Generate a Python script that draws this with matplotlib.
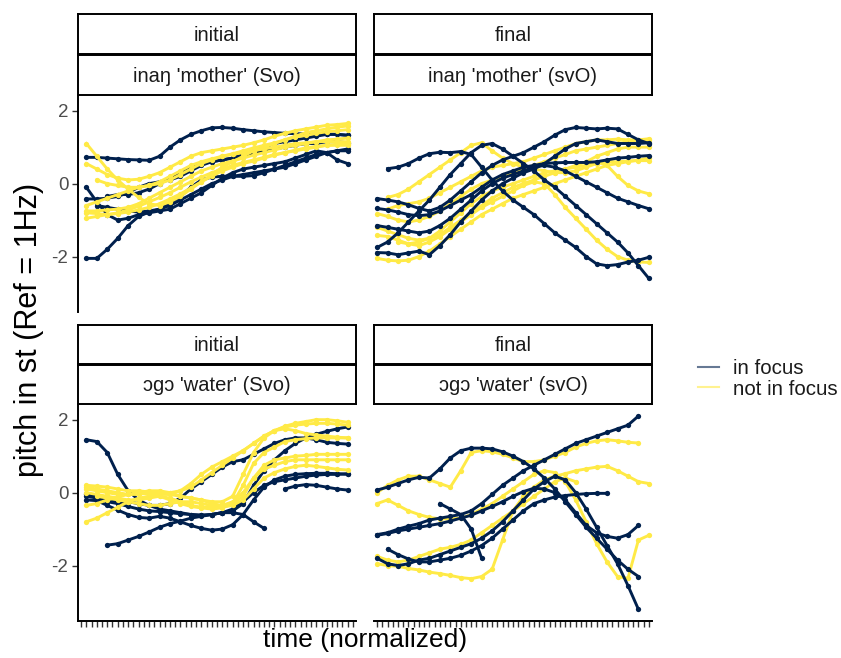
import numpy as np
import matplotlib
matplotlib.use("Agg")
import matplotlib.pyplot as plt
from matplotlib.lines import Line2D

plt.rcParams['font.family'] = ['Liberation Sans', 'DejaVu Sans']

na = np.nan
navy = "#00204D"
yellow = "#FFEA46"

# time steps (discrete levels 1..53), left column sampled on even steps, right on odd
n_levels = 53
time_left = list(range(2, 53, 2))
time_right = list(range(1, 54, 2))

position_labels = ["initial", "final", "initial", "final"]
word_labels = ["inaŋ 'mother' (Svo)", "inaŋ 'mother' (svO)",
               "ɔgɔ 'water' (Svo)", "ɔgɔ 'water' (svO)"]
group_labels = ["in focus", "not in focus"]

# top-left: inaŋ, initial
tl_focus = [
    [0.72, 0.72, 0.70, 0.68, 0.66, 0.65, 0.64, 0.75, 1.00, 1.20, 1.35, 1.45, 1.53, 1.54, 1.52, 1.48, 1.45, 1.42, 1.40, 1.38, 1.37, 1.36, 1.35, 1.36, 1.35, 1.33],
    [-2.05, -2.05, -1.80, -1.50, -1.15, -0.90, -0.78, -0.70, -0.60, -0.45, -0.30, -0.15, 0.00, 0.10, 0.20, 0.25, 0.30, 0.35, 0.40, 0.45, 0.55, 0.65, 0.75, 0.85, 0.90, 0.90],
    [-0.10, -0.50, -0.85, -1.00, -0.95, -0.85, -0.80, -0.75, -0.70, -0.55, -0.40, -0.25, -0.05, 0.15, 0.30, 0.40, 0.45, 0.50, 0.55, 0.60, 0.70, 0.80, 0.90, 0.85, 0.65, 0.55],
    [-0.42, -0.42, -0.40, -0.35, -0.25, -0.10, 0.00, 0.05, 0.10, 0.20, 0.35, 0.50, 0.60, 0.65, 0.70, 0.75, 0.85, 0.90, 0.95, 1.00, 1.05, 1.10, 1.10, 1.15, 1.15, 1.12],
    [na, -0.60, -0.65, -0.70, -0.75, -0.78, -0.75, -0.70, -0.55, -0.35, -0.10, 0.10, 0.18, 0.20, 0.20, 0.20, 0.22, 0.30, 0.40, 0.50, 0.60, 0.70, 0.80, 0.85, 0.90, 0.95],
    [na, na, -0.35, -0.30, -0.30, -0.25, -0.15, 0.00, 0.15, 0.30, 0.45, 0.55, 0.60, 0.65, 0.70, 0.80, 0.90, 1.00, 1.10, 1.15, 1.20, 1.25, 1.30, 1.35, 1.35, 1.32],
]
tl_other = [
    [1.10, 0.75, 0.40, 0.10, -0.15, -0.38, -0.55, -0.60, -0.50, -0.35, -0.15, 0.05, 0.25, 0.45, 0.60, 0.75, 0.90, 1.00, 1.10, 1.20, 1.30, 1.40, 1.45, 1.50, 1.55, 1.58],
    [0.55, 0.40, 0.25, 0.15, 0.10, 0.12, 0.20, 0.30, 0.45, 0.60, 0.75, 0.85, 0.90, 0.95, 1.00, 1.05, 1.12, 1.20, 1.30, 1.38, 1.45, 1.50, 1.55, 1.60, 1.62, 1.65],
    [-0.75, -0.75, -0.72, -0.70, -0.65, -0.55, -0.40, -0.25, -0.10, 0.05, 0.20, 0.35, 0.45, 0.55, 0.62, 0.70, 0.78, 0.85, 0.92, 1.00, 1.05, 1.10, 1.15, 1.20, 1.22, 1.25],
    [-0.95, -0.90, -0.85, -0.80, -0.72, -0.62, -0.50, -0.38, -0.25, -0.10, 0.05, 0.18, 0.30, 0.40, 0.50, 0.58, 0.65, 0.72, 0.80, 0.85, 0.90, 0.95, 1.00, 1.05, 1.05, 1.05],
    [-0.60, -0.50, -0.40, -0.30, -0.20, -0.10, -0.05, 0.00, 0.10, 0.25, 0.40, 0.55, 0.65, 0.75, 0.82, 0.90, 0.98, 1.05, 1.12, 1.20, 1.28, 1.32, 1.38, 1.42, 1.45, 1.48],
    [na, 0.10, 0.00, -0.05, -0.10, -0.10, -0.05, 0.05, 0.20, 0.35, 0.50, 0.60, 0.68, 0.75, 0.80, 0.85, 0.90, 0.95, 1.00, 1.05, 1.10, 1.12, 1.15, 1.15, 1.15, 1.15],
    [-0.80, -0.82, -0.85, -0.82, -0.78, -0.72, -0.65, -0.55, -0.42, -0.28, -0.12, 0.05, 0.20, 0.35, 0.45, 0.55, 0.62, 0.70, 0.78, 0.85, 0.92, 0.98, 1.02, 1.05, 1.08, 1.10],
]

# top-right: inaŋ, final
tr_focus = [
    [na, 0.41, 0.45, 0.55, 0.70, 0.82, 0.86, 0.85, 0.88, 0.80, 0.45, 0.10, -0.20, -0.45, -0.65, -0.85, -1.10, -1.35, -1.55, -1.75, -2.00, -2.20, -2.25, -2.22, -2.15, -2.10, -2.02],
    [-0.41, -0.45, -0.50, -0.58, -0.68, -0.75, -0.65, -0.45, -0.20, 0.05, 0.30, 0.50, 0.65, 0.75, 0.85, 1.00, 1.15, 1.33, 1.48, 1.54, 1.52, 1.50, 1.52, 1.50, 1.35, 1.20, 1.10],
    [-0.68, -0.72, -0.78, -0.85, -0.88, -0.85, -0.75, -0.60, -0.45, -0.30, -0.10, 0.10, 0.25, 0.35, 0.45, 0.50, 0.55, 0.57, 0.58, 0.58, 0.58, 0.60, 0.65, 0.70, 0.72, 0.75, 0.77],
    [-1.15, -1.20, -1.25, -1.30, -1.35, -1.30, -1.15, -0.95, -0.70, -0.45, -0.20, 0.00, 0.15, 0.25, 0.35, 0.45, 0.50, 0.45, 0.35, 0.20, 0.05, -0.10, -0.25, -0.40, -0.50, -0.60, -0.69],
    [-1.75, -1.60, -1.35, -1.05, -0.75, -0.45, -0.10, 0.25, 0.55, 0.85, 1.05, 1.10, 0.95, 0.75, 0.55, 0.35, 0.10, -0.10, -0.35, -0.60, -0.85, -1.10, -1.35, -1.60, -1.90, -2.25, -2.60],
    [-1.89, -1.90, -1.95, -1.90, -1.85, -1.95, -1.70, -1.40, -1.05, -0.75, -0.45, -0.20, 0.00, 0.15, 0.30, 0.40, 0.55, 0.75, 0.95, 1.10, 1.15, 1.20, 1.15, 1.10, 1.10, 1.10, 1.12],
]
tr_other = [
    [na, -0.38, -0.30, -0.15, 0.05, 0.25, 0.45, 0.65, 0.85, 1.05, 1.12, 0.90, 0.70, 0.55, 0.45, 0.40, 0.35, 0.30, 0.30, 0.35, 0.45, 0.55, 0.60, 0.60, 0.62, 0.63, 0.63],
    [-0.82, -0.90, -1.00, -1.05, -1.00, -0.90, -0.75, -0.55, -0.35, -0.15, 0.00, 0.10, 0.20, 0.30, 0.40, 0.50, 0.60, 0.70, 0.80, 0.90, 0.95, 1.00, 1.05, 1.10, 1.15, 1.20, 1.23],
    [-1.20, -1.30, -1.40, -1.50, -1.55, -1.50, -1.40, -1.20, -1.00, -0.80, -0.60, -0.40, -0.25, -0.10, 0.00, 0.10, 0.20, 0.30, 0.40, 0.50, 0.60, 0.75, 0.85, 0.95, 1.00, 1.00, 1.00],
    [-1.42, -1.45, -1.55, -1.65, -1.70, -1.60, -1.45, -1.25, -1.05, -0.85, -0.65, -0.50, -0.35, -0.20, -0.05, 0.05, 0.00, -0.30, -0.65, -0.95, -1.25, -1.55, -1.80, -2.00, -2.10, -2.15, -2.16],
    [-2.05, -2.10, -2.12, -2.10, -2.00, -1.85, -1.65, -1.45, -1.25, -1.05, -0.85, -0.70, -0.55, -0.40, -0.30, -0.20, -0.10, 0.00, 0.10, 0.20, 0.30, 0.40, 0.50, 0.55, 0.60, 0.65, 0.70],
    [na, na, -1.60, -1.65, -1.60, -1.50, -1.30, -1.05, -0.80, -0.55, -0.35, -0.20, -0.10, 0.00, 0.10, 0.20, 0.30, 0.35, 0.40, 0.45, 0.50, 0.60, 0.50, 0.20, -0.05, -0.20, -0.28],
    [na, -0.70, -0.60, -0.55, -0.50, -0.40, -0.25, -0.10, 0.05, 0.20, 0.35, 0.45, 0.50, 0.55, 0.60, 0.70, 0.80, 0.90, 1.00, 1.10, 1.15, 1.20, 1.20, 1.22, 1.20, 1.20, 1.20],
]

# bottom-left: ɔgɔ, initial
bl_focus = [
    [1.45, 1.40, 1.10, 0.50, 0.05, -0.20, -0.35, -0.45, -0.50, -0.55, -0.60, -0.62, -0.60, -0.55, -0.55, -0.60, -0.80, -0.98, na, na, na, na, na, na, na, na],
    [-0.20, -0.22, -0.35, -0.48, -0.60, -0.68, -0.70, -0.65, -0.70, -0.80, -0.90, -0.98, -1.03, -1.00, -0.88, -0.60, -0.20, 0.15, 0.35, 0.45, 0.50, 0.52, 0.53, 0.53, 0.52, 0.50],
    [na, na, -1.44, -1.40, -1.30, -1.20, -1.08, -0.95, -0.85, -0.78, -0.70, -0.65, -0.60, -0.55, -0.50, -0.30, 0.20, 0.60, 0.90, 1.15, 1.35, 1.50, 1.60, 1.68, 1.75, 1.80],
    [-0.05, -0.10, -0.20, -0.25, -0.25, -0.30, -0.35, -0.35, -0.30, -0.15, 0.10, 0.30, 0.50, 0.70, 0.85, 0.90, 1.05, 1.20, 1.35, 1.45, 1.50, 1.50, 1.45, 1.38, 1.35, 1.33],
    [na, na, na, na, na, na, na, na, na, na, na, na, na, na, na, na, na, na, na, 0.10, 0.18, 0.22, 0.20, 0.15, 0.10, 0.07],
    [-0.10, -0.15, -0.25, -0.30, -0.38, -0.45, -0.50, -0.52, -0.55, -0.58, -0.60, -0.62, -0.60, -0.55, -0.45, -0.25, 0.00, 0.20, 0.30, 0.35, 0.40, 0.45, 0.48, 0.50, 0.50, 0.52],
]
bl_other = [
    [0.20, 0.18, 0.15, 0.10, 0.05, 0.05, 0.02, 0.00, 0.00, 0.05, 0.15, 0.35, 0.55, 0.75, 0.95, 1.15, 1.35, 1.55, 1.70, 1.82, 1.90, 1.95, 2.00, 2.00, 1.97, 1.93],
    [0.10, 0.05, 0.00, -0.05, -0.05, 0.00, 0.05, 0.05, 0.00, -0.10, -0.15, -0.20, -0.25, -0.25, -0.10, 0.50, 1.10, 1.50, 1.70, 1.80, 1.85, 1.88, 1.90, 1.90, 1.88, 1.85],
    [-0.35, -0.30, -0.20, -0.12, -0.05, 0.00, -0.05, -0.10, -0.20, -0.30, -0.38, -0.42, -0.45, -0.42, -0.30, 0.20, 0.80, 1.10, 1.25, 1.40, 1.45, 1.48, 1.50, 1.50, 1.50, 1.50],
    [-0.80, -0.70, -0.55, -0.40, -0.25, -0.15, -0.10, -0.05, -0.05, -0.10, -0.15, -0.20, -0.30, -0.35, -0.30, -0.10, 0.40, 0.75, 0.90, 0.95, 1.00, 1.02, 1.05, 1.05, 1.05, 1.05],
    [0.00, -0.05, -0.10, -0.15, -0.20, -0.20, -0.15, -0.10, -0.15, -0.25, -0.35, -0.40, -0.40, -0.35, -0.25, 0.00, 0.40, 0.65, 0.75, 0.85, 0.90, 0.90, 0.90, 0.90, 0.90, 0.90],
    [na, -0.10, -0.15, -0.20, -0.25, -0.30, -0.35, -0.35, -0.30, -0.25, -0.25, -0.30, -0.35, -0.40, -0.35, -0.20, 0.10, 0.40, 0.55, 0.65, 0.72, 0.75, 0.72, 0.68, 0.64, 0.62],
    [0.15, 0.10, 0.05, 0.00, -0.05, -0.05, 0.00, 0.00, -0.05, 0.05, 0.25, 0.50, 0.70, 0.85, 1.00, 1.15, 1.35, 1.55, 1.70, 1.75, 1.70, 1.62, 1.58, 1.55, 1.52, 1.50],
]

# bottom-right: ɔgɔ, final
br_focus = [
    [0.07, 0.15, 0.25, 0.35, 0.42, 0.40, 0.65, 0.95, 1.15, 1.22, 1.22, 1.20, 1.12, 1.00, 0.85, 0.65, 0.40, 0.10, -0.25, -0.60, -0.95, -1.25, -1.55, -1.85, -2.10, -2.30, na],
    [-1.15, -1.10, -1.00, -0.92, -0.85, -0.75, -0.70, -0.65, -0.60, -0.50, -0.30, -0.05, 0.20, 0.40, 0.60, 0.75, 0.90, 1.05, 1.20, 1.35, 1.45, 1.55, 1.65, 1.75, 1.85, 2.10, na],
    [-1.80, -1.95, -2.00, -1.95, -1.85, -1.80, -1.70, -1.60, -1.50, -1.40, -1.25, -1.05, -0.80, -0.50, -0.20, 0.10, 0.30, 0.45, 0.35, 0.00, -0.45, -0.95, -1.45, -1.95, -2.55, -3.20, na],
    [-1.17, -1.12, -1.05, -1.00, -0.95, -0.90, -0.85, -0.78, -0.70, -0.62, -0.50, -0.38, -0.25, -0.10, 0.03, 0.12, 0.10, 0.00, -0.20, -0.55, -0.90, -1.10, -1.20, -1.25, -1.15, -0.90, na],
    [na, na, na, na, na, na, -0.30, -0.45, -0.60, -1.00, -1.80, na, na, na, na, na, na, na, na, na, na, na, na, na, na, na, na],
    [na, -1.55, -1.70, -1.82, -1.90, -1.90, -1.85, -1.80, -1.72, -1.60, -1.45, -1.25, -1.00, -0.75, -0.50, -0.30, -0.20, -0.12, -0.08, -0.05, -0.03, -0.02, -0.02, na, na, na, na],
]
br_other = [
    [0.00, 0.20, 0.35, 0.45, 0.45, 0.35, 0.25, 0.15, 0.60, 1.10, 1.15, 1.12, 1.05, 0.95, 0.85, 0.85, 0.90, 1.00, 1.10, 1.25, 1.35, 1.42, 1.45, 1.42, 1.38, 1.36, na],
    [-0.30, -0.20, -0.35, -0.50, -0.60, -0.68, -0.72, -0.72, -0.70, -0.60, -0.45, -0.30, -0.10, 0.10, 0.30, 0.50, 0.60, 0.55, 0.30, -0.20, -0.80, -1.40, -1.90, -2.30, -2.35, -1.30, -1.17],
    [-1.95, -2.00, -2.02, -2.08, -2.12, -2.18, -2.22, -2.27, -2.33, -2.36, -2.30, -2.10, -1.30, -0.50, -0.10, 0.15, 0.35, 0.45, 0.52, 0.60, 0.65, 0.70, 0.72, 0.60, 0.45, 0.30, 0.25],
    [-1.75, -1.85, -1.90, -1.85, -1.75, -1.65, -1.55, -1.50, -1.42, -1.30, -1.10, -0.90, -0.70, -0.50, -0.30, -0.10, 0.10, 0.30, 0.40, 0.30, na, na, na, na, na, na, na],
]

W, H = 841, 658


def box(x0, y0, x1, y1):
    # pixel box (from top-left) -> figure fraction
    return [x0 / W, 1 - y1 / H, (x1 - x0) / W, (y1 - y0) / H]


fig = plt.figure(figsize=(W / 100, H / 100), dpi=100)

cols = [(78, 356), (374, 652)]
rows = [dict(s1=(14, 54), s2=(55, 95), p=(95, 312)),
        dict(s1=(325, 364), s2=(365, 404), p=(404, 621))]

panels = [(tl_focus, tl_other, time_left, False),
          (tr_focus, tr_other, time_right, True),
          (bl_focus, bl_other, time_left, False),
          (br_focus, br_other, time_right, True)]

for k, (focus, other, t, navy_on_top) in enumerate(panels):
    r, c = divmod(k, 2)
    x0, x1 = cols[c]
    g = rows[r]
    ax = fig.add_axes(box(x0, g['p'][0], x1, g['p'][1]))
    layers = [(other, yellow), (focus, navy)] if navy_on_top else [(focus, navy), (other, yellow)]
    for lines, col in layers:
        for ys in lines:
            ax.plot(t, ys, color=col, lw=2.1, marker='o', ms=3.8, mew=0)
    ax.set_xlim(0.4, n_levels + 0.6)
    ax.set_ylim(-3.52, 2.43)
    for s in ['top', 'right']:
        ax.spines[s].set_visible(False)
    ax.spines['left'].set_visible(c == 0)
    ax.spines['bottom'].set_visible(r == 1)
    for s in ['left', 'bottom']:
        ax.spines[s].set_linewidth(1.4)
    if c == 0:
        ax.set_yticks([-2, 0, 2])
        ax.set_yticklabels(['-2', '0', '2'])
        ax.tick_params(axis='y', length=4, width=1, color='#333333',
                       labelsize=13.5, labelcolor='#4D4D4D', pad=3)
    else:
        ax.set_yticks([])
    if r == 1:
        ax.set_xticks(range(1, n_levels + 1))
        ax.set_xticklabels([])
        ax.tick_params(axis='x', length=4, width=1, color='#333333')
    else:
        ax.set_xticks([])

    for (ya, yb), label in [(g['s1'], position_labels[k]), (g['s2'], word_labels[k])]:
        sa = fig.add_axes(box(x0, ya, x1, yb))
        sa.set_xticks([])
        sa.set_yticks([])
        for sp in sa.spines.values():
            sp.set_linewidth(1.4)
        sa.text(0.5, 0.47, label, ha='center', va='center', fontsize=14.5,
                color='#1A1A1A', transform=sa.transAxes)

fig.text(365 / W, 1 - 640 / H, "time (normalized)", ha='center', va='center',
         fontsize=19, color='black')
fig.text(29 / W, 1 - 330 / H, "pitch in st (Ref = 1Hz)", ha='center', va='center',
         fontsize=22, color='black', rotation=90)

handles = [Line2D([], [], color=navy, lw=1.5, alpha=0.6),
           Line2D([], [], color=yellow, lw=1.5, alpha=0.6)]
fig.legend(handles, group_labels, loc='center left',
           bbox_to_anchor=(690 / W, 1 - 379 / H), frameon=False, fontsize=14.8,
           handlelength=1.0, handletextpad=0.7, labelspacing=0.05,
           borderaxespad=0.2, borderpad=0.2, labelcolor='#1A1A1A')

fig.savefig("out.png", dpi=100)
